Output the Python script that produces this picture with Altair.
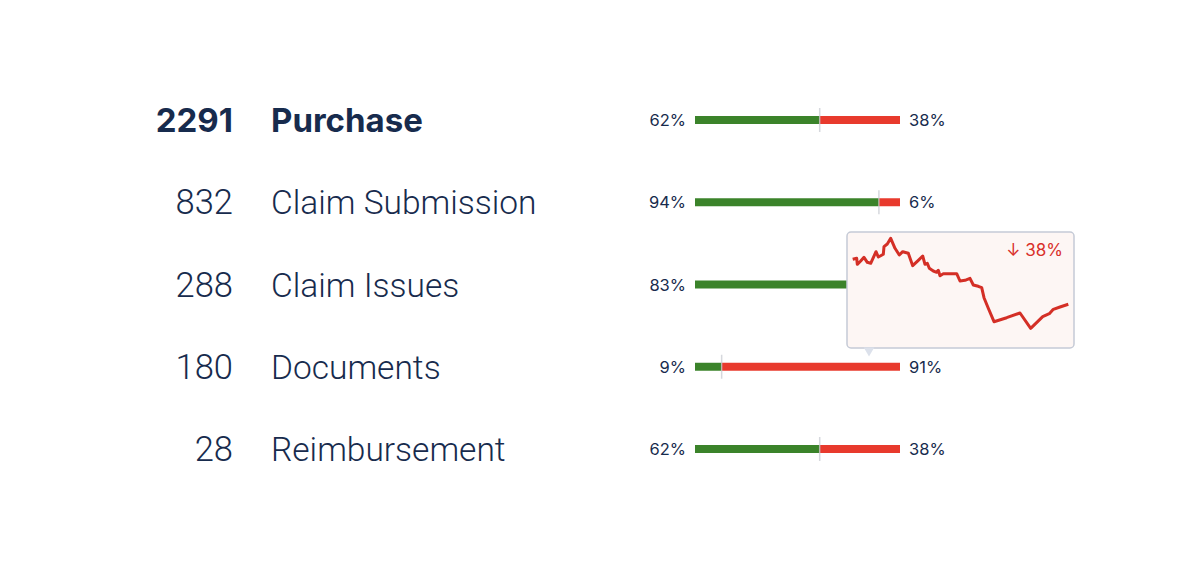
import altair as alt
import pandas as pd

# ---- data ----
stages = ["Purchase", "Claim Submission", "Claim Issues", "Documents", "Reimbursement"]
counts = [2291, 832, 288, 180, 28]
good_pct = [62, 94, 83, 9, 62]
bad_pct = [38, 6, 17, 91, 38]
highlight = [True, False, False, False, False]

spark_t = [0, 4, 4.6, 8, 11.3, 14.6, 18, 23.3, 25.6, 28, 30.6, 31.3, 34.6, 38,
           42.3, 46.6, 50, 55.6, 60, 65.6, 70, 72.3, 74.6, 76.6, 80.6, 84, 85.6,
           87.3, 90.6, 104, 107.3, 112.3, 117.3, 120.6, 125.6, 129, 131.3, 135.6,
           141.3, 154, 167.3, 178, 190, 196.6, 200.6, 207.3, 215.6]
spark_v = [80.7, 81.7, 75.7, 79, 82.7, 77.7, 76.7, 88.3, 83, 84.3, 85.7, 93.3,
           96, 101.7, 91.7, 85, 88.3, 86.7, 74.3, 79.7, 84, 75.7, 76.7, 71.7, 69,
           67.7, 69.7, 64.3, 66.3, 66.3, 59, 59.7, 61.7, 55, 53.7, 52.3, 42.3,
           31.7, 18.3, 22.3, 27, 11.7, 23.3, 26.3, 30.7, 33, 35.7]
change_label = ["↓ 38%"]

df = pd.DataFrame({
    "stage": stages, "count": counts, "good": good_pct, "bad": bad_pct,
    "hl": highlight,
})
df["good_lbl"] = df["good"].astype(str) + "%"
df["bad_lbl"] = df["bad"].astype(str) + "%"

NAVY = "#172b4d"
GREEN = "#3b832a"
RED = "#e83a2d"
FONT = "Inter"
LIGHT_FONT = "Roboto"

yenc = alt.Y("stage:N", sort=stages, axis=None,
             scale=alt.Scale(type="point", domain=stages, range=[112, 441], padding=0))
xbar = alt.Scale(domain=[0, 100], range=[687, 892])

# each segment keeps a small minimum width (as in the original widget)
base = alt.Chart(df).transform_calculate(
    zero="0", full="100", split="(10 + datum.good * 1.85) / 205 * 100")

green = base.mark_bar(color=GREEN, size=8).encode(
    x=alt.X("zero:Q", scale=xbar, axis=None), x2="split:Q", y=yenc)
red = base.mark_bar(color=RED, size=8).encode(
    x=alt.X("split:Q", scale=xbar, axis=None), x2="full:Q", y=yenc)
tick = base.mark_tick(color="#c4c8cf", size=24, thickness=1.5, orient="vertical").encode(
    x=alt.X("split:Q", scale=xbar, axis=None), y=yenc)

left_lbl = base.mark_text(align="right", baseline="middle", dx=-9, dy=1,
                          fontSize=16.5, font=FONT, color=NAVY).encode(
    x=alt.X("zero:Q", scale=xbar, axis=None), y=yenc, text="good_lbl:N")
right_lbl = base.mark_text(align="left", baseline="middle", dx=9, dy=1,
                           fontSize=16.5, font=FONT, color=NAVY).encode(
    x=alt.X("full:Q", scale=xbar, axis=None), y=yenc, text="bad_lbl:N")

cnt_hl = base.transform_filter("datum.hl").mark_text(
    align="right", baseline="alphabetic", dy=12, fontSize=33, fontWeight=700,
    font=FONT, color=NAVY).encode(x=alt.value(225), y=yenc, text="count:N")
cnt = base.transform_filter("!datum.hl").mark_text(
    align="right", baseline="alphabetic", dy=12, fontSize=34.5, fontWeight=300,
    font=LIGHT_FONT, color=NAVY).encode(x=alt.value(225), y=yenc, text="count:N")
name_hl = base.transform_filter("datum.hl").mark_text(
    align="left", baseline="alphabetic", dy=12, fontSize=33, fontWeight=700,
    font=FONT, color=NAVY).encode(x=alt.value(263), y=yenc, text="stage:N")
name = base.transform_filter("!datum.hl").mark_text(
    align="left", baseline="alphabetic", dy=12, fontSize=33.5, fontWeight=300,
    font=LIGHT_FONT, color=NAVY).encode(x=alt.value(263), y=yenc, text="stage:N")

# tooltip card
box = alt.Chart(pd.DataFrame({"k": [0]})).mark_rect(
    fill="#fdf6f4", stroke="#c5cad6", strokeWidth=1.5, cornerRadius=4).encode(
    x=alt.value(839), x2=alt.value(1066), y=alt.value(224), y2=alt.value(340))
pointer = alt.Chart(pd.DataFrame({"k": [0]})).mark_point(
    shape="triangle-down", filled=True, fill="#dce1eb", opacity=1, size=110).encode(
    x=alt.value(861), y=alt.value(344))
line = alt.Chart(pd.DataFrame({"t": spark_t, "v": spark_v})).mark_line(
    color="#d42f26", strokeWidth=3, strokeJoin="round").encode(
    x=alt.X("t:Q", axis=None, scale=alt.Scale(zero=False, nice=False, range=[844.7, 1060.3])),
    y=alt.Y("v:Q", axis=None, scale=alt.Scale(zero=False, nice=False, range=[320.3, 230.3])),
)
chg = alt.Chart(pd.DataFrame({"lbl": change_label})).mark_text(
    align="right", baseline="middle", fontSize=17, font=FONT, color="#d9302a").encode(
    x=alt.value(1055), y=alt.value(243), text="lbl:N")

chart = alt.layer(
    green, red, tick, left_lbl, right_lbl, cnt_hl, cnt, name_hl, name,
    box, pointer, line, chg
).resolve_scale(x="independent", y="independent").properties(
    width=1184, height=560, padding=0, autosize="none", background="white"
).configure_view(stroke=None)

chart.save("out.html", embed_options={"renderer": "svg", "actions": False})
